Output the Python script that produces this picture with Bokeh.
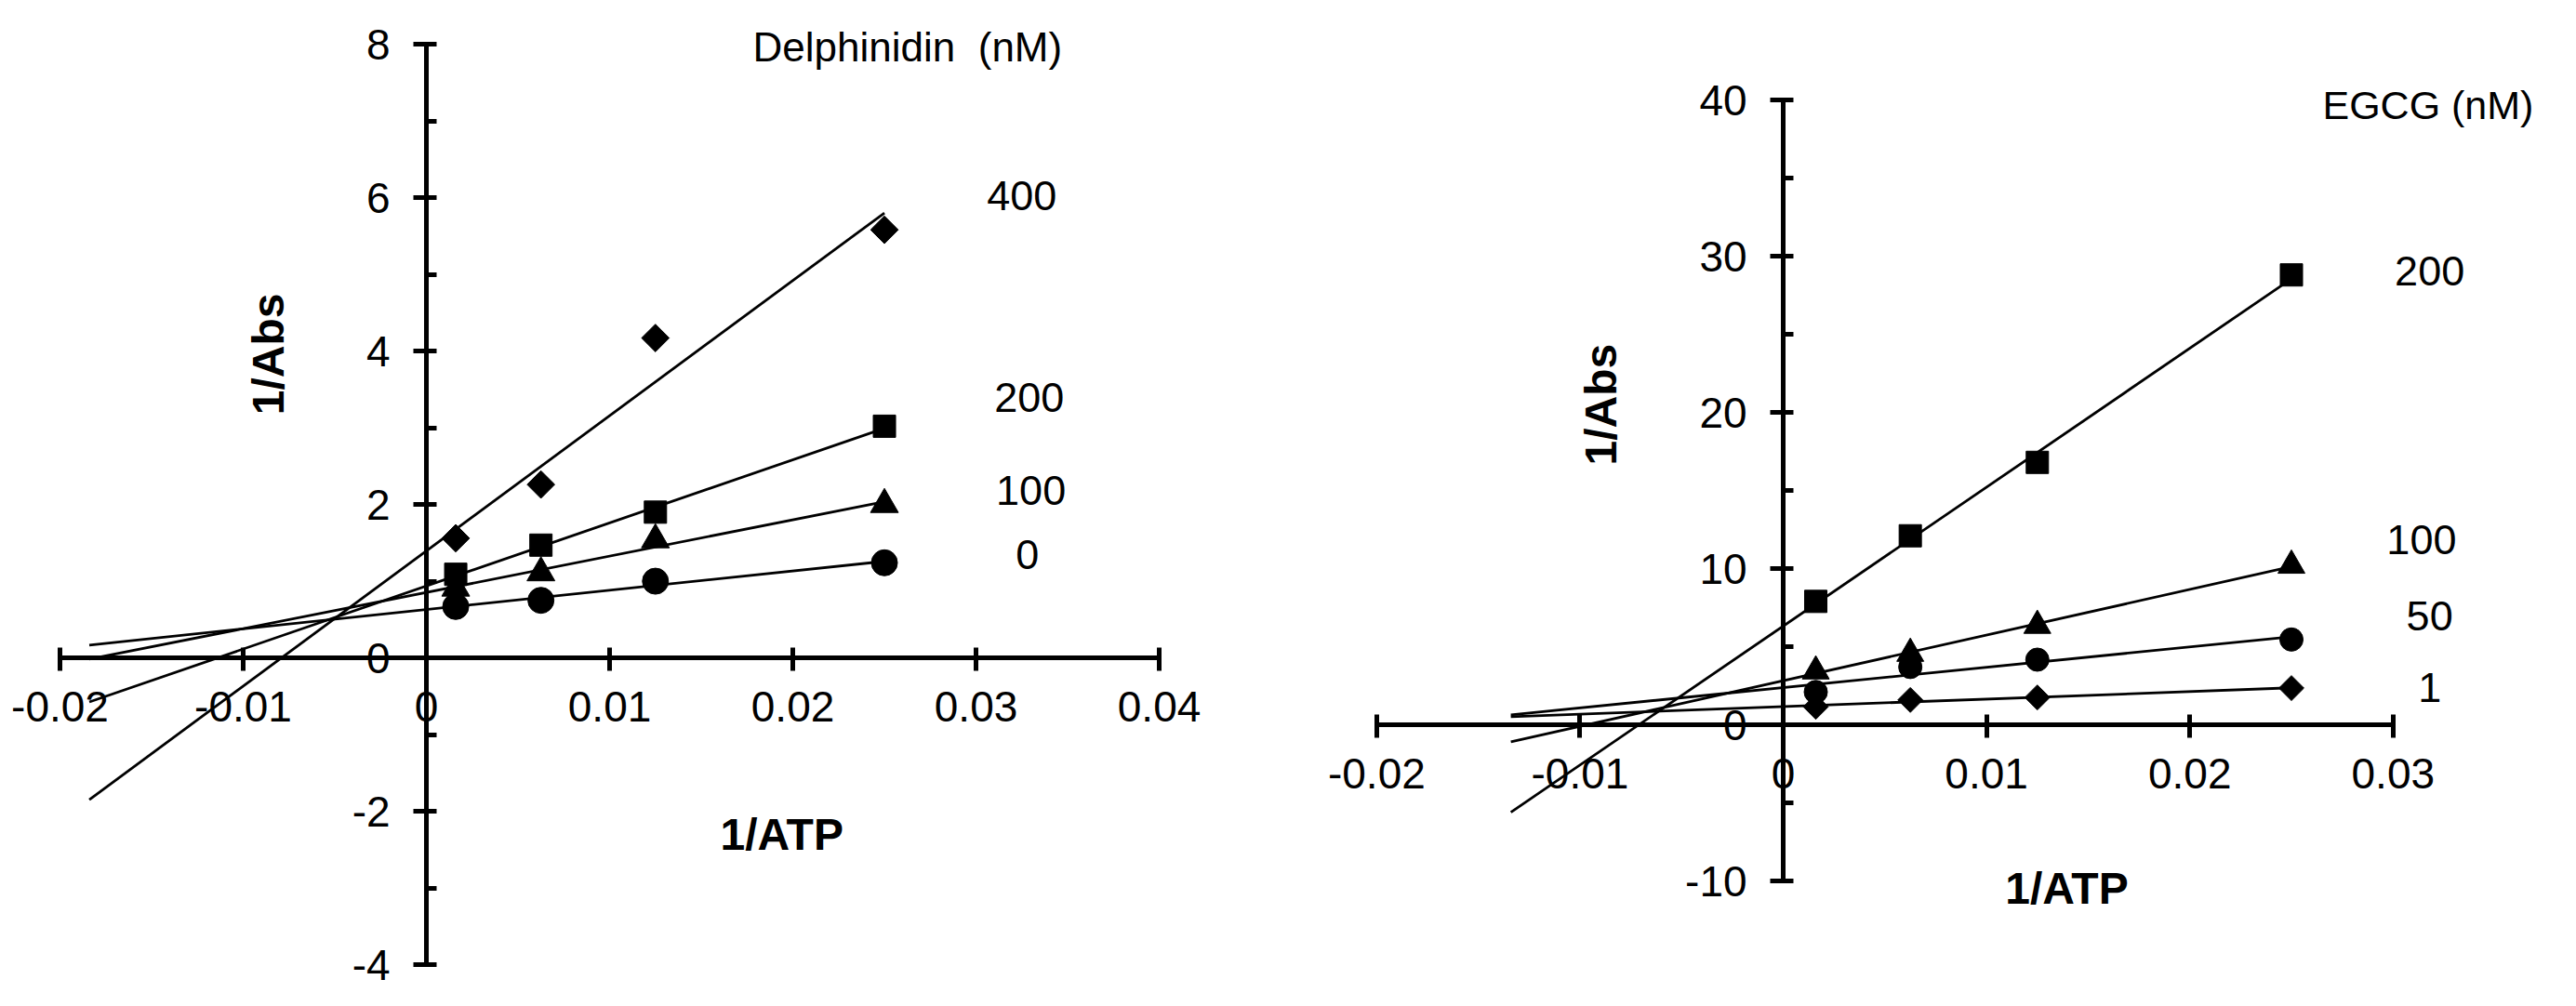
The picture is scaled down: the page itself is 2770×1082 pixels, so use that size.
import numpy as np
from bokeh.plotting import figure
from bokeh.models import Range1d, FixedTicker, CustomJSTickFormatter, Label
from bokeh.layouts import row
from bokeh.embed import file_html
from bokeh.resources import INLINE
from bokeh.core.properties import value

# ---------------- data ----------------
atp_inv = [0.0016, 0.00625, 0.0125, 0.025]          # 1/ATP

# Delphinidin (nM)
delph_conc = ["0", "100", "200", "400"]
delph_0 = [0.67, 0.75, 1.00, 1.24]
delph_100 = [0.91, 1.11, 1.54, 2.00]
delph_200 = [1.09, 1.47, 1.90, 3.02]
delph_400 = [1.56, 2.26, 4.17, 5.58]

# EGCG (nM)
egcg_conc = ["1", "50", "100", "200"]
egcg_1 = [1.15, 1.59, 1.75, 2.35]
egcg_50 = [2.10, 3.70, 4.17, 5.46]
egcg_100 = [3.43, 4.56, 6.35, 10.20]
egcg_200 = [7.90, 12.10, 16.80, 28.80]

delph_xticks = [-0.02, -0.01, 0, 0.01, 0.02, 0.03, 0.04]
delph_yticks = [-4, -2, 0, 2, 4, 6, 8]
delph_yminor = [-3, -1, 1, 3, 5, 7]
egcg_xticks = [-0.02, -0.01, 0, 0.01, 0.02, 0.03]
egcg_yticks = [-10, 0, 10, 20, 30, 40]
egcg_yminor = [-5, 5, 15, 25, 35]

# ---------------- layout constants ----------------
H = 1066
FONT = "Liberation Sans"


def make_panel(width, xr, yr, xticks, yticks, yminor):
    p = figure(width=width, height=H, x_range=Range1d(*xr), y_range=Range1d(*yr),
               output_backend="svg", toolbar_location=None,
               min_border=0, min_border_left=0, min_border_right=0,
               min_border_top=0, min_border_bottom=0)
    p.outline_line_color = None
    p.grid.visible = False
    fmt = CustomJSTickFormatter(code="return Number(tick.toFixed(4)).toString();")
    xa = p.xaxis[0]
    ya = p.yaxis[0]
    xa.ticker = FixedTicker(ticks=xticks, minor_ticks=[])
    ya.ticker = FixedTicker(ticks=yticks, minor_ticks=yminor)
    for ax in (xa, ya):
        ax.fixed_location = 0
        ax.formatter = fmt
        ax.axis_line_width = 5
        ax.axis_line_color = "black"
        ax.major_tick_line_width = 5
        ax.minor_tick_line_width = 5
        ax.major_tick_line_color = "black"
        ax.minor_tick_line_color = "black"
        ax.major_tick_in = 11
        ax.major_tick_out = 14
        ax.minor_tick_in = 11
        ax.minor_tick_out = 0
        ax.major_label_text_font = FONT
        ax.major_label_text_font_size = "46px"
        ax.major_label_text_color = "black"
    xa.bounds = (min(xticks), max(xticks))
    ya.bounds = (min(yticks), max(yticks))
    xa.major_label_standoff = 22
    ya.major_label_standoff = 25
    return p


def add_series(p, ys, marker, size, back, angle=0.0):
    slope, icpt = np.polyfit(atp_inv, ys, 1)
    x0 = min(atp_inv) - back
    x1 = max(atp_inv)
    p.line([x0, x1], [icpt + slope * x0, icpt + slope * x1],
           line_width=2.8, line_color="black")
    p.scatter(atp_inv, ys, marker=marker, size=size, angle=angle,
              fill_color="black", line_color="black")


def add_text(p, x, y, text, size, bold=False, angle=0.0, align="center", baseline="middle"):
    p.add_layout(Label(x=x, y=y, text=text, angle=angle, text_align=align,
                       text_baseline=baseline, text_font=FONT,
                       text_font_size=size, text_color="black",
                       text_font_style="bold" if bold else "normal"))


# ---------------- left panel: Delphinidin ----------------
p1 = make_panel(1380, (-0.02325, 0.0468), (-4.35, 8.57),
                delph_xticks, delph_yticks, delph_yminor)
back1 = 0.02
add_series(p1, delph_0, "circle", 28, back1)
add_series(p1, delph_100, "triangle", 30, back1)
add_series(p1, delph_200, "square", 24, back1)
add_series(p1, delph_400, "square", 21, back1, angle=np.pi / 4)

delph_lab_x = [0.0328, 0.0330, 0.0329, 0.0325]
delph_lab_y = [1.35, 2.18, 3.40, 6.02]
p1.text(x=delph_lab_x, y=delph_lab_y, text=delph_conc,
        text_font=value(FONT), text_font_size=value("45px"),
        text_align="center", text_baseline="middle", text_color="black")

add_text(p1, 0.01782, 7.96, "Delphinidin \u00a0(nM)", "44px", align="left", baseline="alphabetic")
add_text(p1, -0.00863, 3.96, "1/Abs", "48px", bold=True, angle=np.pi / 2)
add_text(p1, 0.0194, -2.30, "1/ATP", "48px", bold=True)

# ---------------- right panel: EGCG ----------------
p2 = make_panel(1374, (-0.02457, 0.03829), (-17.08, 46.37),
                egcg_xticks, egcg_yticks, egcg_yminor)
back2 = 0.015
add_series(p2, egcg_1, "square", 19, back2, angle=np.pi / 4)
add_series(p2, egcg_50, "circle", 25, back2)
add_series(p2, egcg_100, "triangle", 29, back2)
add_series(p2, egcg_200, "square", 24, back2)

egcg_lab_x = [0.0318, 0.0318, 0.0314, 0.0318]
egcg_lab_y = [2.38, 6.96, 11.85, 29.05]
p2.text(x=egcg_lab_x, y=egcg_lab_y, text=egcg_conc,
        text_font=value(FONT), text_font_size=value("45px"),
        text_align="center", text_baseline="middle", text_color="black")

add_text(p2, 0.02653, 39.7, "EGCG (nM)", "43px", align="left", baseline="alphabetic")
add_text(p2, -0.00897, 20.5, "1/Abs", "48px", bold=True, angle=np.pi / 2)
add_text(p2, 0.01395, -10.5, "1/ATP", "48px", bold=True)

layout = row(p1, p2)
open("out.html", "w").write(file_html(layout, INLINE))
